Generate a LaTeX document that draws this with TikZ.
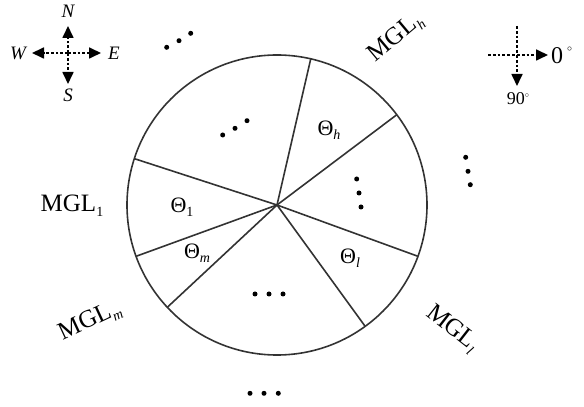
\documentclass[tikz,border=0pt]{standalone}
\usepackage{fontspec}
\setmainfont{Liberation Serif}
\usetikzlibrary{arrows.meta,calc}
\begin{document}
\begin{tikzpicture}[x=1pt,y=1pt,
  wheel/.style={draw=black!80,line width=1.6pt},
  dotmark/.style={circle,fill=black,inner sep=0pt,minimum size=5pt},
  dasharrow/.style={line width=1.7pt,dash pattern=on 2.8pt off 2pt,-{Triangle[length=12pt,width=11pt]}},
  plainline/.style={line width=1.7pt,dash pattern=on 2.8pt off 2pt},
  big/.style={font=\fontsize{25}{28}\selectfont,inner sep=0pt},
  theta/.style={font=\fontsize{22}{24}\selectfont,inner sep=0pt},
  compass/.style={font=\fontsize{19}{22}\selectfont\itshape,inner sep=0pt}]
\newcommand{\subt}[1]{\raisebox{-0.45ex}{\fontsize{14}{16}\selectfont #1}}
\useasboundingbox (0,0) rectangle (584,407);
% wheel
\coordinate (c) at (277,202);
\node[wheel,circle,minimum size=300pt,inner sep=0pt] (wheelc) at (c) {};
\foreach \a/\n in {77/s1,37/s2,-20/s3,-54/s4,223/s5,200/s6,162/s7}{
  \coordinate (\n) at ($(c)+(\a:150)$);
  \draw[wheel] (c) -- (\n);
}
% inner labels
\node[theta] (th) at (329,277) {Θ\subt{\textit{h}}};
\node[theta] (t1) at (182,200) {Θ\subt{1}};
\node[theta] (tm) at (197,154) {Θ\subt{\textit{m}}};
\node[theta] (tl) at (350,149) {Θ\subt{\textit{l}}};
% inner dots
\node[dotmark] (ia1) at (222.7,272) {};
\node[dotmark] (ia2) at (235,278.7) {};
\node[dotmark] (ia3) at (247,286.3) {};
\node[dotmark] (ib1) at (356.7,228) {};
\node[dotmark] (ib2) at (359,214) {};
\node[dotmark] (ib3) at (361,200) {};
\node[dotmark] (ic1) at (255,113) {};
\node[dotmark] (ic2) at (269,113) {};
\node[dotmark] (ic3) at (283,113) {};
% outer dots
\node[dotmark] (oa1) at (166.7,359.7) {};
\node[dotmark] (oa2) at (179,366.3) {};
\node[dotmark] (oa3) at (190.7,373.7) {};
\node[dotmark] (ob1) at (465.7,249.7) {};
\node[dotmark] (ob2) at (468,235.7) {};
\node[dotmark] (ob3) at (470.3,222.3) {};
\node[dotmark] (oc1) at (250,13.7) {};
\node[dotmark] (oc2) at (264,13.7) {};
\node[dotmark] (oc3) at (278.3,13.7) {};
% outer labels
\node[big] (m1) at (72,201) {MGL\subt{1}};
\node[big,rotate=40] (mh) at (396,369) {MGL\subt{\textit{h}}};
\node[big,rotate=25] (mm) at (90,86) {MGL\subt{\textit{m}}};
\node[big,rotate=-38] (ml) at (452,78) {MGL\subt{\textit{l}}};
% compass
\coordinate (cc) at (68,354);
\coordinate (cn) at (68,381);
\coordinate (cs) at (68,323);
\coordinate (cw) at (32,354);
\coordinate (ce) at (101,354);
\draw[dasharrow] (cc) -- (cn);
\draw[dasharrow] (cc) -- (cs);
\draw[dasharrow] (cc) -- (cw);
\draw[dasharrow] (cc) -- (ce);
\node[compass] (ln) at (68,396) {N};
\node[compass] (ls) at (68,312) {S};
\node[compass] (lw) at (18,354) {W};
\node[compass] (le) at (114,354) {E};
% angle indicator
\coordinate (ac) at (517,352);
\coordinate (al) at (488,352);
\coordinate (ar) at (548,352);
\coordinate (at) at (517,381);
\coordinate (ab) at (517,321);
\draw[plainline] (al) -- (ac);
\draw[plainline] (at) -- (ac);
\draw[dasharrow] (ac) -- (ar);
\draw[dasharrow] (ac) -- (ab);
\node[font=\fontsize{24}{26}\selectfont,inner sep=0pt,anchor=west] (zero) at (551,352) {0\,\raisebox{1.1ex}{\fontsize{10}{10}\selectfont$\circ$}};
\node[font=\fontsize{18}{20}\selectfont,inner sep=0pt] (ninety) at (518,308) {90\raisebox{0.9ex}{\fontsize{8}{8}\selectfont$\circ$}};
\end{tikzpicture}
\end{document}
